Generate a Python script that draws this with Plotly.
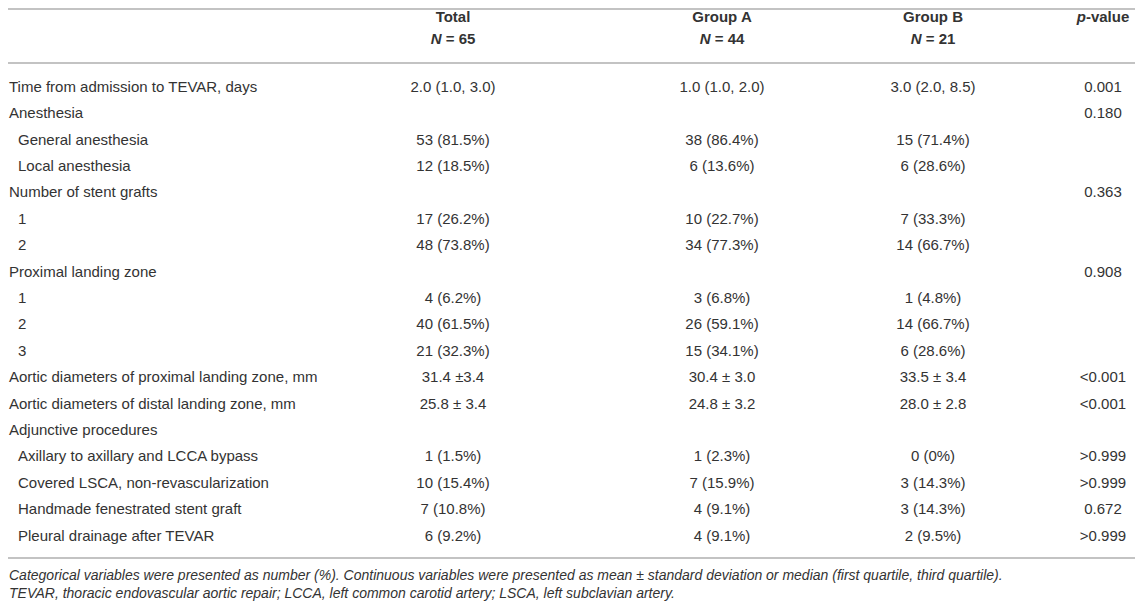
import plotly.graph_objects as go

# ---------------- data ----------------
row_labels = [
    "Time from admission to TEVAR, days",
    "Anesthesia",
    "General anesthesia",
    "Local anesthesia",
    "Number of stent grafts",
    "1",
    "2",
    "Proximal landing zone",
    "1",
    "2",
    "3",
    "Aortic diameters of proximal landing zone, mm",
    "Aortic diameters of distal landing zone, mm",
    "Adjunctive procedures",
    "Axillary to axillary and LCCA bypass",
    "Covered LSCA, non-revascularization",
    "Handmade fenestrated stent graft",
    "Pleural drainage after TEVAR",
]
row_indent = [0, 0, 1, 1, 0, 1, 1, 0, 1, 1, 1, 0, 0, 0, 1, 1, 1, 1]

total = ["2.0 (1.0, 3.0)", "", "53 (81.5%)", "12 (18.5%)", "", "17 (26.2%)", "48 (73.8%)",
         "", "4 (6.2%)", "40 (61.5%)", "21 (32.3%)", "31.4 \u00b13.4", "25.8 \u00b1 3.4",
         "", "1 (1.5%)", "10 (15.4%)", "7 (10.8%)", "6 (9.2%)"]
group_a = ["1.0 (1.0, 2.0)", "", "38 (86.4%)", "6 (13.6%)", "", "10 (22.7%)", "34 (77.3%)",
           "", "3 (6.8%)", "26 (59.1%)", "15 (34.1%)", "30.4 \u00b1 3.0", "24.8 \u00b1 3.2",
           "", "1 (2.3%)", "7 (15.9%)", "4 (9.1%)", "4 (9.1%)"]
group_b = ["3.0 (2.0, 8.5)", "", "15 (71.4%)", "6 (28.6%)", "", "7 (33.3%)", "14 (66.7%)",
           "", "1 (4.8%)", "14 (66.7%)", "6 (28.6%)", "33.5 \u00b1 3.4", "28.0 \u00b1 2.8",
           "", "0 (0%)", "3 (14.3%)", "3 (14.3%)", "2 (9.5%)"]
p_values = ["0.001", "0.180", "", "", "0.363", "", "", "0.908", "", "", "",
            "<0.001", "<0.001", "", ">0.999", ">0.999", "0.672", ">0.999"]

header_titles = ["Total", "Group A", "Group B", "<i>p</i>-value"]
header_n = ["<i>N</i> = 65", "<i>N</i> = 44", "<i>N</i> = 21", ""]

footnotes = [
    "Categorical variables were presented as number (%). Continuous variables were presented as "
    "mean \u00b1 standard deviation or median (first quartile, third quartile).",
    "TEVAR, thoracic endovascular aortic repair; LCCA, left common carotid artery; "
    "LSCA, left subclavian artery.",
]

# ---------------- layout constants ----------------
# The page body has an 8px margin, so the figure is sized to start at (8, 8)
# and the axes are set in window pixel coordinates.
W, H = 1143, 605
OFF = 8
FONT = "Liberation Sans, Arial, Helvetica, sans-serif"
TXT = "#333333"
RULE = "#c3c3c3"
FS = 15
FS_NOTE = 14
first_row_y = 88
row_pitch = 26.4
col_x = [453, 722, 933, 1103]
label_x = 9
indent_x = 18

row_y = [first_row_y + i * row_pitch for i in range(len(row_labels))]

fig = go.Figure()

# row labels
fig.add_trace(go.Scatter(
    x=[indent_x if ind else label_x for ind in row_indent],
    y=row_y, text=row_labels, mode="text", textposition="middle right",
    textfont=dict(family=FONT, size=FS, color=TXT), hoverinfo="skip", showlegend=False,
    cliponaxis=False))

# data columns
for cx, col in zip(col_x, [total, group_a, group_b, p_values]):
    fig.add_trace(go.Scatter(
        x=[cx] * len(col), y=row_y, text=col, mode="text", textposition="middle center",
        textfont=dict(family=FONT, size=FS, color=TXT), hoverinfo="skip", showlegend=False,
        cliponaxis=False))

# header
fig.add_trace(go.Scatter(
    x=col_x, y=[18] * 4, text=["<b>%s</b>" % t for t in header_titles], mode="text",
    textposition="middle center", textfont=dict(family=FONT, size=FS, color=TXT),
    hoverinfo="skip", showlegend=False, cliponaxis=False))
fig.add_trace(go.Scatter(
    x=col_x, y=[40] * 4, text=["<b>%s</b>" % t if t else "" for t in header_n], mode="text",
    textposition="middle center", textfont=dict(family=FONT, size=FS, color=TXT),
    hoverinfo="skip", showlegend=False, cliponaxis=False))

# footnotes
fig.add_trace(go.Scatter(
    x=[label_x, label_x], y=[576, 594], text=["<i>%s</i>" % f for f in footnotes], mode="text",
    textposition="middle right", textfont=dict(family=FONT, size=FS_NOTE, color=TXT),
    hoverinfo="skip", showlegend=False, cliponaxis=False))

# rules
for yy in [9, 63, 558]:
    fig.add_shape(type="line", x0=OFF, x1=W, y0=yy, y1=yy, xref="x", yref="y",
                  line=dict(color=RULE, width=2))

fig.update_layout(
    width=W - OFF, height=H - OFF, margin=dict(l=0, r=0, t=0, b=0),
    paper_bgcolor="white", plot_bgcolor="white",
    xaxis=dict(range=[OFF, W], visible=False, fixedrange=True),
    yaxis=dict(range=[H, OFF], visible=False, fixedrange=True),
    hovermode=False,
)

fig.write_html("out.html")
